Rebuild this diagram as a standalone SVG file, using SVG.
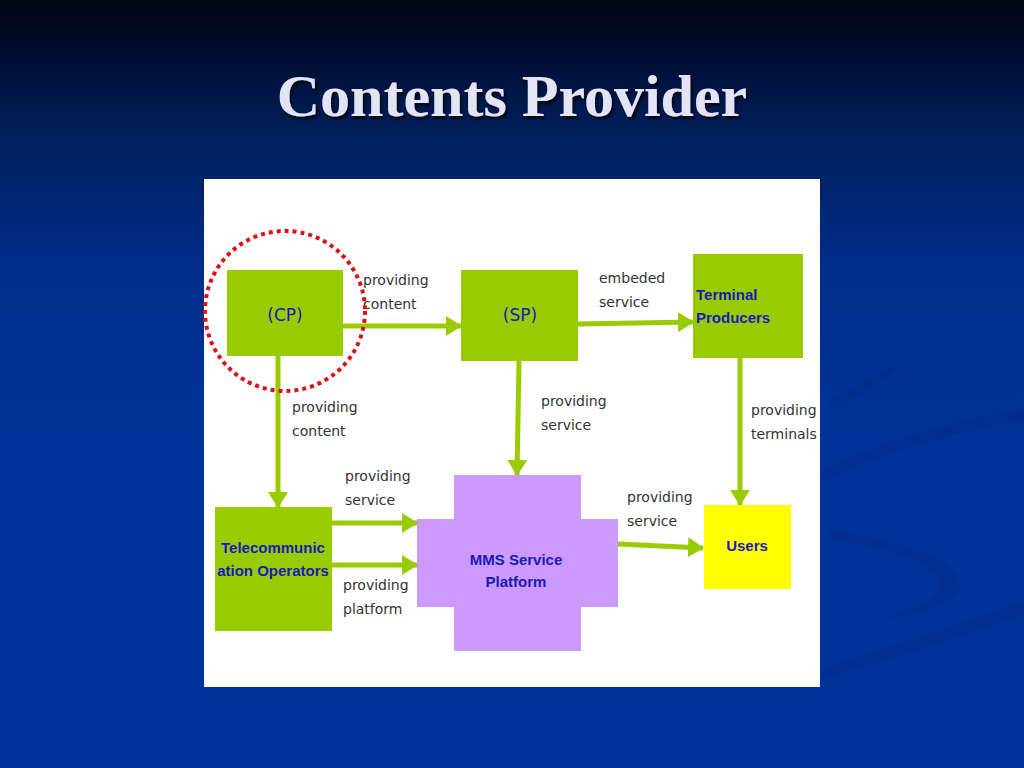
<svg xmlns="http://www.w3.org/2000/svg" width="1024" height="768" viewBox="0 0 1024 768">
  <defs>
    <linearGradient id="bg" x1="0" y1="0" x2="0" y2="1">
      <stop offset="0" stop-color="#000514"/>
      <stop offset="0.05" stop-color="#000a28"/>
      <stop offset="0.18" stop-color="#00205e"/>
      <stop offset="0.35" stop-color="#002d8a"/>
      <stop offset="0.6" stop-color="#003399"/>
      <stop offset="1" stop-color="#003399"/>
    </linearGradient>
    <filter id="shadow" x="-10%" y="-20%" width="120%" height="150%">
      <feDropShadow dx="2" dy="3" stdDeviation="1.2" flood-color="#000000" flood-opacity="0.7"/>
    </filter>
    <marker id="ah" markerUnits="userSpaceOnUse" markerWidth="16" markerHeight="20" refX="15" refY="10" orient="auto">
      <path d="M0,0 L16,10 L0,20 Z" fill="#99cc00"/>
    </marker>
    <style>
      .box { fill: #99cc00; }
      .lbl { font-family: "DejaVu Sans", "Liberation Sans", sans-serif; font-size: 14px; fill: #333333; }
      .nt { font-family: "DejaVu Sans", "Liberation Sans", sans-serif; font-size: 17px; fill: #1a1ab8; text-anchor: middle; }
      .bt { font-family: "Liberation Sans", Arial, sans-serif; font-size: 15px; font-weight: bold; fill: #1a1ab8; }
      .conn line { stroke: #99cc00; stroke-width: 5; marker-end: url(#ah); }
    </style>
  </defs>

  <rect x="0" y="0" width="1024" height="768" fill="url(#bg)"/>
  <!-- faint swoosh -->
  <g fill="#002c8c" opacity="0.55">
    <path d="M822,470 C880,440 960,420 1024,410 L1024,420 C960,430 890,450 822,482 Z"/>
    <path d="M830,530 C900,540 960,560 960,585 C958,605 920,615 880,620 C915,608 940,598 940,585 C938,565 890,548 830,540 Z"/>
    <path d="M822,668 C880,650 960,625 1024,600 L1024,616 C960,638 880,662 822,680 Z"/>
    <path d="M830,400 C860,385 890,370 905,355 C895,375 870,392 830,408 Z"/>
  </g>

  <!-- title -->
  <text x="512" y="116" text-anchor="middle" font-family="'Liberation Serif', 'Times New Roman', serif" font-size="60" font-weight="bold" fill="#e4e4f6" filter="url(#shadow)">Contents Provider</text>

  <!-- white panel -->
  <rect x="204" y="179" width="616" height="508" fill="#ffffff"/>

  <!-- nodes -->
  <g id="cp">
    <rect class="box" x="227" y="270" width="116" height="86"/>
    <text class="nt" x="285" y="321">(CP)</text>
  </g>
  <g id="sp">
    <rect class="box" x="461" y="270" width="117" height="91"/>
    <text class="nt" x="520" y="321">(SP)</text>
  </g>
  <g id="terminal">
    <rect class="box" x="693" y="254" width="110" height="104"/>
    <text class="bt" x="696" y="300">Terminal</text>
    <text class="bt" x="696" y="323">Producers</text>
  </g>
  <g id="telecom">
    <rect class="box" x="215" y="507" width="117" height="124"/>
    <text class="bt" x="273" y="553" text-anchor="middle">Telecommunic</text>
    <text class="bt" x="273" y="576" text-anchor="middle">ation Operators</text>
  </g>
  <g id="mms">
    <path d="M454,475 H581 V519 H618 V607 H581 V651 H454 V607 H417 V519 H454 Z" fill="#cc99ff"/>
    <text class="bt" x="516" y="565" text-anchor="middle">MMS Service</text>
    <text class="bt" x="516" y="587" text-anchor="middle">Platform</text>
  </g>
  <g id="users">
    <rect x="704" y="505" width="87" height="84" fill="#ffff00"/>
    <text class="bt" x="747" y="551" text-anchor="middle">Users</text>
  </g>

  <!-- connectors -->
  <g id="connectors" class="conn">
    <line x1="343" y1="326" x2="461" y2="326"/>
    <line x1="578" y1="324" x2="693" y2="322"/>
    <line x1="278" y1="356" x2="278" y2="507"/>
    <line x1="519" y1="361" x2="517" y2="475"/>
    <line x1="740" y1="358" x2="740" y2="505"/>
    <line x1="332" y1="523" x2="417" y2="523"/>
    <line x1="332" y1="565" x2="417" y2="565"/>
    <line x1="618" y1="544" x2="703" y2="548"/>
  </g>

  <!-- labels -->
  <g id="labels">
    <text class="lbl" x="363" y="285">providing</text>
    <text class="lbl" x="363" y="309">content</text>
    <text class="lbl" x="599" y="283">embeded</text>
    <text class="lbl" x="599" y="307">service</text>
    <text class="lbl" x="292" y="412">providing</text>
    <text class="lbl" x="292" y="436">content</text>
    <text class="lbl" x="541" y="406">providing</text>
    <text class="lbl" x="541" y="430">service</text>
    <text class="lbl" x="751" y="415">providing</text>
    <text class="lbl" x="751" y="439">terminals</text>
    <text class="lbl" x="345" y="481">providing</text>
    <text class="lbl" x="345" y="505">service</text>
    <text class="lbl" x="343" y="590">providing</text>
    <text class="lbl" x="343" y="614">platform</text>
    <text class="lbl" x="627" y="502">providing</text>
    <text class="lbl" x="627" y="526">service</text>
  </g>

  <!-- red dotted highlight circle -->
  <circle cx="285" cy="311" r="80" fill="none" stroke="#dd1111" stroke-width="4" stroke-dasharray="4 4"/>
</svg>
